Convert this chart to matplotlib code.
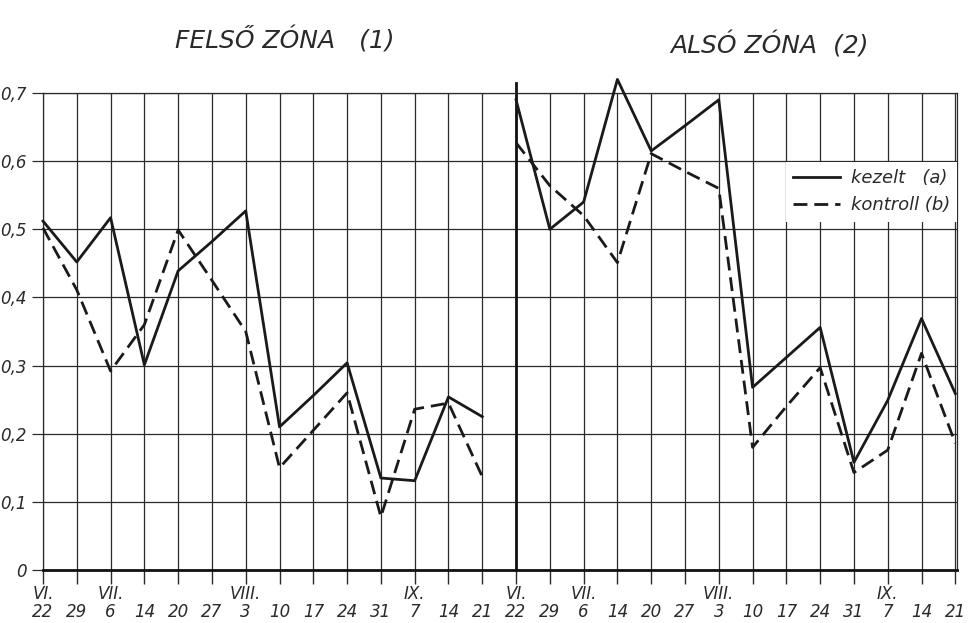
import numpy as np
import matplotlib
matplotlib.use("Agg")
import matplotlib.pyplot as plt

# napok (x tengely), egy zóna 14 mérési időpont
days = ["22", "29", "6", "14", "20", "27", "3", "10", "17", "24", "31", "7", "14", "21"]
months = ["VI.", "", "VII.", "", "", "", "VIII.", "", "", "", "", "IX.", "", ""]

# felső zóna (1)
felso_a = [0.512, 0.452, 0.517, 0.301, 0.439, 0.482, 0.527, 0.210, 0.256, 0.304, 0.135, 0.131, 0.254, 0.225]
felso_b = [0.502, 0.411, 0.292, 0.360, 0.499, 0.425, 0.350, 0.150, 0.205, 0.260, 0.078, 0.236, 0.245, 0.137]
# alsó zóna (2)
also_a = [0.690, 0.500, 0.540, 0.720, 0.615, 0.652, 0.690, 0.268, 0.312, 0.356, 0.158, 0.249, 0.369, 0.259]
also_b = [0.627, 0.564, 0.520, 0.451, 0.611, 0.585, 0.560, 0.180, 0.240, 0.297, 0.143, 0.176, 0.318, 0.186]

yticks = [0, 0.1, 0.2, 0.3, 0.4, 0.5, 0.6, 0.7]
ylabels = ["0", "0,1", "0,2", "0,3", "0,4", "0,5", "0,6", "0,7"]

ink = "#2a2a2a"
fnt = dict(family="DejaVu Sans", style="oblique", color=ink)
dash = (0, (5, 2.5))

fig = plt.figure(figsize=(9.7, 6.23), dpi=100)
ax = fig.add_axes([43 / 970, 53 / 623, 914 / 970, 477 / 623])

n = len(days)
x1 = np.arange(n)
x2 = np.arange(n) + n

# rácsvonalak
for xv in range(2 * n):
    ax.axvline(xv, color=ink, lw=0.9, zorder=1)
for yv in yticks[1:]:
    ax.axhline(yv, color=ink, lw=0.9, zorder=1)
# a második zóna kezdete vastagabb vonallal, kicsit a rács fölé nyúlva
ax.plot([n, n], [0, 0.715], color="#111", lw=2.0, zorder=2, clip_on=False)

ax.plot(x1, felso_a, color="#1a1a1a", lw=2.0, zorder=3, clip_on=False, label="kezelt   (a)")
ax.plot(x1, felso_b, color="#1a1a1a", lw=2.0, ls=dash, zorder=3, clip_on=False, label="kontroll (b)")
ax.plot(x2, also_a, color="#1a1a1a", lw=2.0, zorder=3, clip_on=False)
ax.plot(x2, also_b, color="#1a1a1a", lw=2.0, ls=dash, zorder=3, clip_on=False)

ax.set_xlim(0, 2 * n - 1 + 0.05)
ax.set_ylim(0, 0.7)

for s in ["left", "top", "right"]:
    ax.spines[s].set_linewidth(0.9)
    ax.spines[s].set_color(ink)
ax.spines["bottom"].set_linewidth(2.0)
ax.spines["bottom"].set_color("#111")

ax.set_yticks(yticks)
ax.set_yticklabels(ylabels, fontsize=12, **fnt)
ax.tick_params(axis="y", length=8, width=0.9, color=ink, pad=4)

ax.set_xticks(np.arange(2 * n))
ax.set_xticklabels([m + "\n" + d for m, d in zip(months + months, days + days)],
                   fontsize=12, linespacing=1.0, **fnt)
ax.tick_params(axis="x", length=10, width=1.0, color=ink, pad=1)

# zóna címek
fig.text(285 / 970, 1 - 40 / 623, "FELSŐ ZÓNA   (1)", fontsize=18, ha="center", va="center", **fnt)
fig.text(770 / 970, 1 - 45 / 623, "ALSÓ ZÓNA  (2)", fontsize=18, ha="center", va="center", **fnt)

leg = ax.legend(loc="upper right", bbox_to_anchor=(1.0, 0.855), frameon=True, fancybox=False,
                framealpha=1, facecolor="white", edgecolor="none", borderaxespad=0,
                handlelength=2.6, handletextpad=0.6,
                prop=dict(family="DejaVu Sans", style="oblique", size=13))
leg.set_zorder(4)
for t in leg.get_texts():
    t.set_color(ink)

fig.savefig("out.png", dpi=100, facecolor="white")
